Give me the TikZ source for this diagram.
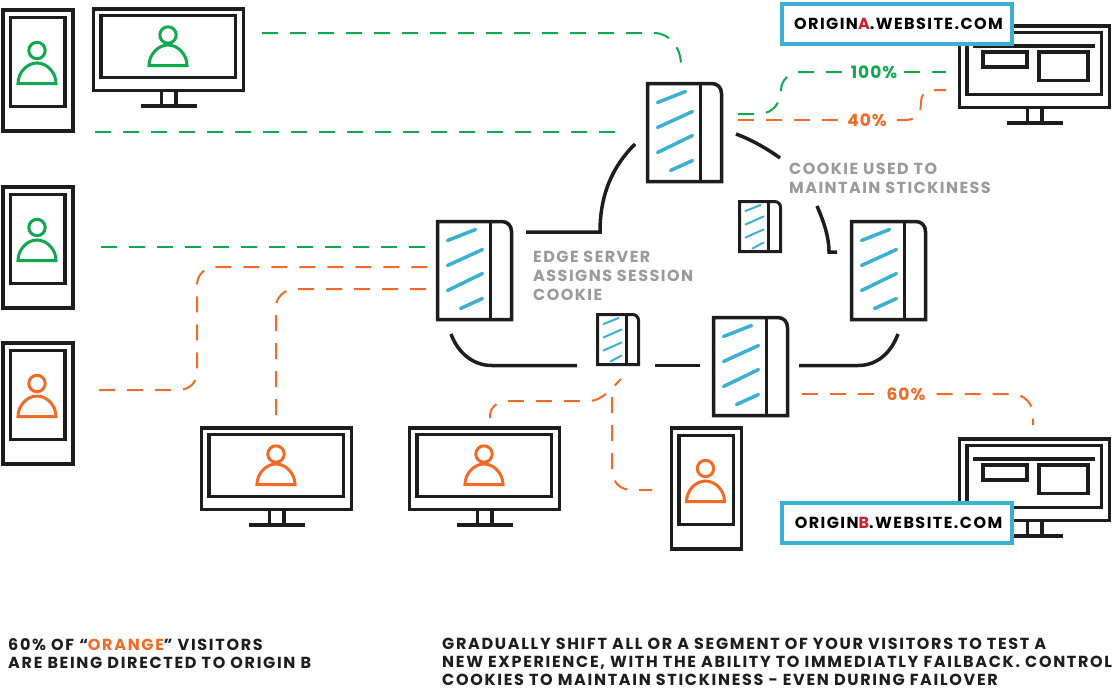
\documentclass[tikz,border=0pt]{standalone}
\usepackage{fontspec}
\setmainfont{Poppins}
\definecolor{ink}{HTML}{1D1D1F}
\definecolor{grn}{HTML}{0FA84E}
\definecolor{org}{HTML}{F26B26}
\definecolor{cya}{HTML}{3CB0D2}
\definecolor{gry}{HTML}{9A9A9A}
\definecolor{rdd}{HTML}{C8202F}
\tikzset{
  dev/.style={draw=ink,line width=3.5pt,fill=white},
  stripe/.style={draw=cya,line cap=round},
  gd/.style={draw=grn,line width=2pt,dash pattern=on 16pt off 12pt},
  od/.style={draw=org,line width=2pt,dash pattern=on 16pt off 12pt},
  cable/.style={draw=ink,line width=3.5pt},
  pct/.style={font=\bfseries\fontsize{17}{20}\selectfont\addfontfeature{LetterSpace=6},inner sep=0pt},
  grey/.style={text=gry,align=left,inner sep=0pt,anchor=west,font=\bfseries\fontsize{16}{19}\selectfont\addfontfeature{LetterSpace=9}},
  foot/.style={text=ink,align=left,inner sep=0pt,anchor=west,font=\bfseries\fontsize{16}{18}\selectfont\addfontfeature{LetterSpace=10.5}},
  origin/.style={draw=cya,line width=4pt,fill=white,minimum width=230pt,minimum height=40pt,inner sep=0pt,font=\bfseries\fontsize{16}{18}\selectfont\addfontfeature{LetterSpace=9},text=black},
  person/.pic={
    \draw[#1,line width=3pt] (0,-33) circle[radius=8.2pt];
    \draw[#1,line width=3pt] (-19,0) .. controls (-19,-11) and (-10,-20.5) .. (0,-20.5) .. controls (10,-20.5) and (19,-11) .. (19,0) -- cycle;
  },
  personm/.pic={
    \draw[#1,line width=3pt] (0,-30.5) circle[radius=8.2pt];
    \draw[#1,line width=3pt] (-19,0) .. controls (-19,-11) and (-10,-20.5) .. (0,-20.5) .. controls (10,-20.5) and (19,-11) .. (19,0) -- cycle;
  },
  phonepic/.pic={
    \draw[dev] (1.5,1.5) rectangle (71.5,122.5);
    \draw[dev] (9,9) rectangle (63.5,98);
    \pic at (35.5,75) {person={#1}};
  },
  monpic/.pic={
    \draw[dev] (1.5,1.5) rectangle (151.5,83);
    \draw[dev] (9,8) rectangle (143.5,70);
    \draw[dev] (69.5,83) rectangle (84,98);
    \draw[cable] (49,98.5) -- (105,98.5);
    \pic at (76,58) {personm={#1}};
  },
  originpic/.pic={
    \draw[dev] (1.5,1.5) rectangle (151.5,83);
    \draw[dev] (9,8) rectangle (143.5,70);
    \draw[dev] (69.5,83) rectangle (84,98);
    \draw[cable] (49,98.5) -- (105,98.5);
    \draw[cable] (15,21.5) -- (137,21.5);
    \draw[dev] (25,27.5) rectangle (69,42.5);
    \draw[dev] (81,27.5) rectangle (130,56);
  },
  serverpic/.pic={
    \draw[dev] (0,0) -- (64,0) .. controls (70,0) and (74,4) .. (74,10) -- (74,98) -- (0,98) -- cycle;
    \draw[cable] (53,0) -- (53,98);
    \draw[stripe,line width=3.5pt] (10,19) -- (38,8);
    \draw[stripe,line width=3.5pt] (10,44) -- (45,28);
    \draw[stripe,line width=3.5pt] (10,69) -- (45,52);
    \draw[stripe,line width=3.5pt] (23,87) -- (45,77);
  },
  smallpic/.pic={
    \draw[dev,line width=3pt] (0,0) -- (35,0) .. controls (38.5,0) and (41,2.5) .. (41,6) -- (41,50) -- (0,50) -- cycle;
    \draw[cable,line width=3pt] (29,0) -- (29,50);
    \draw[stripe,line width=2pt] (6,9.5) -- (21,3.5);
    \draw[stripe,line width=2pt] (6,23) -- (24,15);
    \draw[stripe,line width=2pt] (6,36) -- (24,28);
    \draw[stripe,line width=2pt] (13,47) -- (24,41);
  }
}
\begin{document}
\begin{tikzpicture}[x=1pt,y=-1pt]
\useasboundingbox (0,0) rectangle (1115,688);
% devices
\pic at (1.5,8.5) {phonepic=grn};
\pic at (1.5,185.5) {phonepic=grn};
\pic at (1.5,341.5) {phonepic=org};
\pic at (670,426.5) {phonepic=org};
\pic at (92,7.5) {monpic=grn};
\pic at (200,426.5) {monpic=org};
\pic at (408,426.5) {monpic=org};
\pic at (958,24.5) {originpic};
\pic at (958,437.5) {originpic};
\pic at (647.5,83.5) {serverpic};
\pic at (437.5,221.5) {serverpic};
\pic at (713.5,317.5) {serverpic};
\pic at (851.5,221.5) {serverpic};
\pic at (597.5,314.5) {smallpic};
\pic at (739.5,201.5) {smallpic};
% origin labels
\node[origin] (oa) at (897,24) {\hspace{3pt}\raisebox{-1.5pt}{ORIGIN\textcolor{rdd}{A}.WEBSITE.COM}};
\node[origin] (ob) at (897,523) {\hspace{3pt}\raisebox{-1.5pt}{ORIGIN\textcolor{rdd}{B}.WEBSITE.COM}};
% percent labels
\node[pct,text=grn] (p100) at (874,72) {100\%};
\node[pct,text=org] (p40) at (867,120) {40\%};
\node[pct,text=org] (p60) at (906,394) {60\%};
% free ends
\coordinate (g1a) at (262,33); \coordinate (g1b) at (681,65);
\coordinate (g2a) at (95,132); \coordinate (g2b) at (620,132);
\coordinate (g3a) at (101,247); \coordinate (g3b) at (428,247);
\coordinate (g4a) at (738,114); \coordinate (g4b) at (946,72);
\coordinate (o1a) at (738,120); \coordinate (o1b) at (946,90);
\coordinate (o2a) at (802,394); \coordinate (o2b) at (1033,425);
\coordinate (o3a) at (99,390); \coordinate (o3b) at (428,267);
\coordinate (o4a) at (276,415); \coordinate (o4b) at (428,289);
\coordinate (o5a) at (490,418); \coordinate (o5b) at (621,379);
\coordinate (o6a) at (612,397); \coordinate (o6b) at (652,490);
\coordinate (c1a) at (526,232); \coordinate (c1b) at (635,144);
\coordinate (c2a) at (736,134); \coordinate (c2b) at (780,158);
\coordinate (c3a) at (817,206); \coordinate (c3b) at (837,252);
\coordinate (c4a) at (451,334); \coordinate (c4b) at (577,365.5);
\coordinate (c5a) at (655,365.5); \coordinate (c5b) at (700,365.5);
\coordinate (c6a) at (799,365.5); \coordinate (c6b) at (898,334);
% dashed connectors
\draw[gd] (g1a) -- (654,33) .. controls (670,33) and (681,48) .. (g1b);
\draw[gd] (g2a) -- (g2b);
\draw[gd] (g3a) -- (g3b);
\draw[gd] (g4a) -- (758,114) .. controls (775,114) and (781,100) .. (781,90) .. controls (781,80) and (790,72) .. (800,72) -- ([xshift=-6pt]p100.west);
\draw[gd] ([xshift=7pt]p100.east) -- (g4b);
\draw[od] (o1a) -- ([xshift=-8pt]p40.west);
\draw[od] ([xshift=10pt]p40.east) -- (905,120) .. controls (918,120) and (921,112) .. (921,102) .. controls (921,95) and (925,90) .. (932,90) -- (o1b);
\draw[od] (o2a) -- ([xshift=-10pt]p60.west);
\draw[od] ([xshift=11pt]p60.east) -- (1012,394) .. controls (1025,394) and (1033,405) .. (1033,414) -- (o2b);
\draw[od] (o3a) -- (178,390) .. controls (190,390) and (197,382) .. (197,372) -- (197,285) .. controls (197,275) and (205,267) .. (215,267) -- (o3b);
\draw[od] (o4a) -- (276,307) .. controls (276,297) and (285,289) .. (295,289) -- (o4b);
\draw[od] (o5a) -- (490,416) .. controls (490,408) and (497,401) .. (507,401) -- (590,401) .. controls (603,400) and (612,388) .. (o5b);
\draw[od] (o6a) -- (612,470) .. controls (612,482) and (620,490) .. (632,490) -- (o6b);
% cables
\draw[cable] (c1a) -- (600,232) .. controls (600,195) and (612,167) .. (c1b);
\draw[cable] (c2a) .. controls (752,140) and (766,148) .. (c2b);
\draw[cable] (c3a) .. controls (823,220) and (829,236) .. (829,252) -- (c3b);
\draw[cable] (c4a) .. controls (458,353) and (473,365.5) .. (492,365.5) -- (c4b);
\draw[cable] (c5a) -- (c5b);
\draw[cable] (c6a) -- (858,365.5) .. controls (877,365.5) and (891,353) .. (c6b);
% notes
\node[grey] (n1) at (789,178.5) {COOKIE USED TO\\MAINTAIN STICKINESS};
\node[grey] (n2) at (533,276) {EDGE SERVER\\ASSIGNS SESSION\\COOKIE};
\node[foot] (f1) at (8,653.5) {60\% OF “\textcolor{org}{ORANGE}” VISITORS\\ARE BEING DIRECTED TO ORIGIN B};
\node[foot] (f2) at (442,661.5) {GRADUALLY SHIFT ALL OR A SEGMENT OF YOUR VISITORS TO TEST A\\NEW EXPERIENCE, WITH THE ABILITY TO IMMEDIATLY FAILBACK. CONTROL\\COOKIES TO MAINTAIN STICKINESS - EVEN DURING FAILOVER};
\end{tikzpicture}
\end{document}
